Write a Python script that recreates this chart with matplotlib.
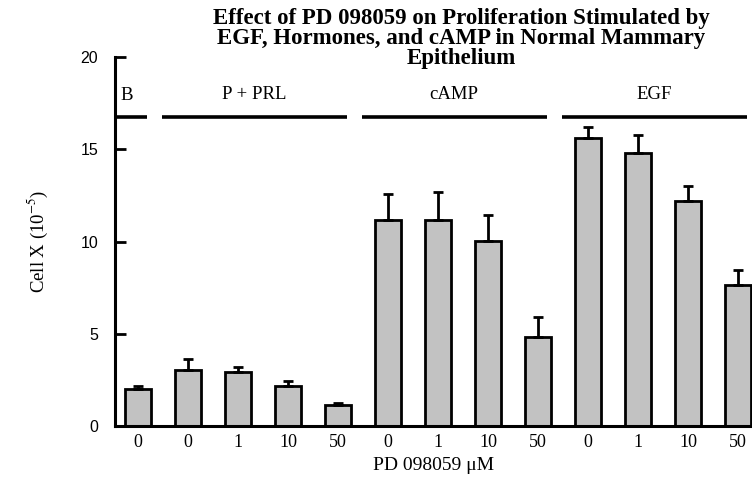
import matplotlib
matplotlib.use("Agg")
import matplotlib.pyplot as plt
import numpy as np

# ---- data ----
groups = ["B", "P + PRL", "cAMP", "EGF"]
group_sizes = [1, 4, 4, 4]
doses = ["0", "0", "1", "10", "50", "0", "1", "10", "50", "0", "1", "10", "50"]
cell_x = [2.0, 3.05, 2.9, 2.15, 1.15, 11.15, 11.15, 10.05, 4.8, 15.6, 14.8, 12.2, 7.65]
sem = [0.15, 0.58, 0.28, 0.28, 0.12, 1.4, 1.55, 1.4, 1.1, 0.58, 0.95, 0.82, 0.82]

title = "Effect of PD 098059 on Proliferation Stimulated by\nEGF, Hormones, and cAMP in Normal Mammary\nEpithelium"
ylabel = "Cell X (10$^{-5}$)"
xlabel = "PD 098059 \u03bcM"

plt.rcParams["mathtext.fontset"] = "stix"
serif = ["Liberation Serif", "DejaVu Serif"]
sans = ["Liberation Sans", "DejaVu Sans"]

fig = plt.figure(figsize=(7.52, 4.78), dpi=100)
ax = fig.add_axes([115 / 752, 52 / 478, (752 - 115) / 752, (426 - 57) / 478])

x = np.arange(len(cell_x))
ax.bar(x, cell_x, width=0.52, color="#c2c2c2", edgecolor="black", linewidth=2.0, zorder=2)
ax.errorbar(x, cell_x, yerr=[np.zeros(len(sem)), sem], fmt="none", ecolor="black",
            elinewidth=2.0, capsize=3.5, capthick=2.0, zorder=3)

ax.set_xlim(-0.46, 12.28)
ax.set_ylim(0, 20)

# group bars and labels
line_y = 16.75
start = 0
for name, n in zip(groups, group_sizes):
    x0 = start - 0.52
    x1 = start + n - 1 + 0.17
    ax.plot([max(x0, -0.46), x1], [line_y, line_y], color="black", lw=2.6,
            solid_capstyle="butt", clip_on=False)
    if n == 1:
        ax.text(-0.36, 17.9, name, ha="left", va="center", fontsize=13.5, family=serif)
    else:
        ax.text((x0 + x1) / 2, 17.95, name, ha="center", va="center", fontsize=13.5, family=serif)
    start += n

ax.set_xticks(x)
ax.set_xticklabels(doses, fontsize=13, family=serif)
ax.tick_params(axis="x", length=0, pad=6)
ax.set_yticks([0, 5, 10, 15, 20])
ax.set_yticklabels(["0", "5", "10", "15", "20"], fontsize=11.5, family=sans)
ax.tick_params(axis="y", direction="in", length=8, width=2, pad=12)

for s in ["top", "right"]:
    ax.spines[s].set_visible(False)
for s in ["left", "bottom"]:
    ax.spines[s].set_linewidth(2.2)

ax.set_xlabel(xlabel, fontsize=14, family=serif, labelpad=4)
ax.set_ylabel(ylabel, fontsize=13.5, family=serif, labelpad=22)

fig.text(461 / 752, 1 - 8 / 478, title, ha="center", va="top", fontsize=16.5,
         fontweight="bold", family=serif, linespacing=0.95)

fig.savefig("out.png", dpi=100)
